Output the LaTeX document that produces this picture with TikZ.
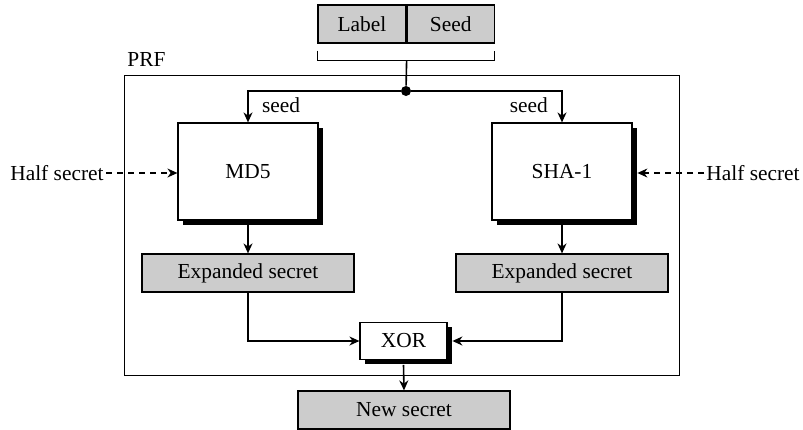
\documentclass[tikz,border=0pt]{standalone}
\usepackage{fontspec}
\setmainfont{Liberation Serif}
\usetikzlibrary{positioning, shadows, arrows.meta}

\begin{document}
\begin{tikzpicture}[x=0.5pt, y=-0.5pt,
    font=\fontsize{10.7}{12}\selectfont,
    hNode/.style={rectangle, draw, line width=0.6pt, fill=white, minimum width=70pt, minimum height=48.5pt,
        drop shadow={shadow xshift=2.4pt, shadow yshift=-2.4pt, fill=black, opacity=1}},
    gNode/.style={rectangle, draw, line width=0.6pt, fill=black!20, minimum width=106pt, minimum height=19pt, inner sep=0pt},
    xNode/.style={rectangle, draw, line width=0.6pt, fill=white, minimum width=43.5pt, minimum height=18.5pt, inner sep=0pt,
        drop shadow={shadow xshift=2.4pt, shadow yshift=-2.4pt, fill=black, opacity=1}},
    edge/.style={draw, line width=0.8pt},
    arr/.style={edge, -{Stealth[length=5pt, width=4.5pt]}},
    dArr/.style={draw, line width=0.6pt, dashed, dash pattern=on 3pt off 2.5pt, -{Stealth[length=5pt, width=4.5pt]}}
]
    \useasboundingbox (0,0) rectangle (803,429);

    % input
    \node[gNode, minimum width=44pt] (lbl) at (362,24) {Label};
    \node[gNode, minimum width=43.5pt, right=0pt of lbl] (sd) {Seed};
    \draw[line width=0.6pt] ([yshift=-3.5pt]lbl.south west) -- ++(0,-5pt) coordinate (bl)
        -- (bl -| sd.east) -- ([yshift=-3.5pt]sd.south east);
    \coordinate (brk) at (bl -| lbl.east);

    % PRF frame
    \draw[line width=0.5pt] (124,75) rectangle (679,375);
    \node[anchor=south west, inner sep=0pt] (prf) at (127,67) {PRF};

    \node[circle, fill, inner sep=0pt, minimum size=5pt] (dot) at (406,91) {};
    \path[edge] (brk) -- (dot);

    \node[hNode] (md5) at (248,171.5) {MD5};
    \node[hNode] (sha) at (562,171.5) {SHA-1};
    \path[arr] (dot) -| (md5.north);
    \path[arr] (dot) -| (sha.north);
    \node[anchor=west] (s1) at (255,105) {seed};
    \node[anchor=east] (s2) at (555,105) {seed};

    % secrets
    \node[anchor=east, inner sep=1pt] (h1) at (106,173) {Half secret};
    \node[anchor=west, inner sep=1pt] (h2) at (704,173) {Half secret};
    \path[dArr] (h1.east) -- (h1.east -| md5.west);
    \path[dArr] (h2.west) -- ([xshift=2.4pt]h2.west -| sha.east);

    \node[gNode] (e1) at (248,273) {Expanded secret};
    \node[gNode] (e2) at (562,273) {Expanded secret};
    \path[arr] ([yshift=-2.4pt]md5.south) -- (e1.north);
    \path[arr] ([yshift=-2.4pt]sha.south) -- (e2.north);

    \node[xNode] (xor) at (403.5,341) {XOR};
    \path[arr] (e1.south) |- (xor.west);
    \path[arr] (e2.south) |- ([xshift=2.4pt]xor.east);

    \node[gNode] (ns) at (404,410) {New secret};
    \path[arr] ([yshift=-2.4pt]xor.south) -- (ns.north);
\end{tikzpicture}
\end{document}
